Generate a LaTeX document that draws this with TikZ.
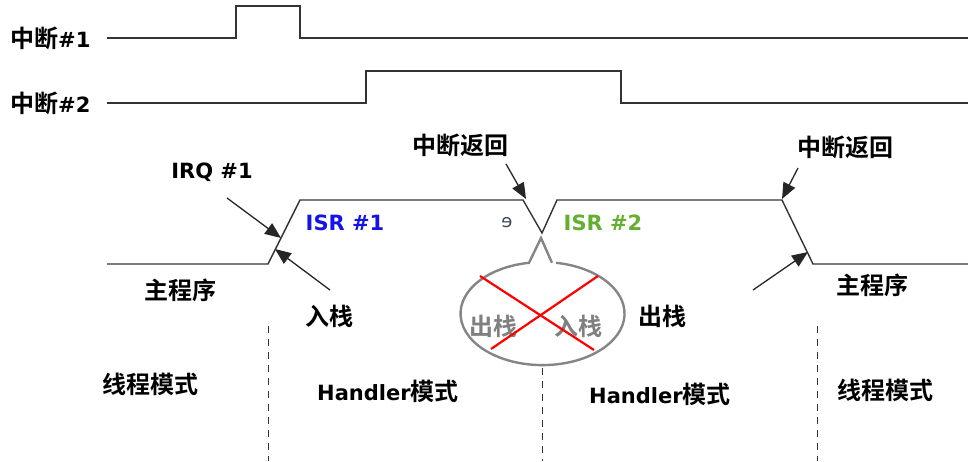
\documentclass[tikz,border=0pt]{standalone}
\usepackage{fontspec}
\setmainfont{DejaVu Sans}
\newfontfamily\cjk{Noto Sans CJK SC Bold}
\newfontfamily\lat{DejaVu Sans Bold}
\usetikzlibrary{arrows.meta}
\newcommand{\zh}[1]{{\cjk\fontsize{24}{25}\selectfont #1}}
\newcommand{\la}[1]{{\lat\fontsize{21}{22}\selectfont #1}}
\begin{document}
\begin{tikzpicture}[x=1pt,y=-1pt,
  wave/.style={draw=black!80,line width=1.4pt,line join=miter},
  lbl/.style={inner sep=0pt,text=black},
  ptr/.style={draw=black!85,line width=1.3pt,-{Triangle[length=16pt,width=13pt]}},
  modesep/.style={draw=black!80,line width=1pt,dash pattern=on 7pt off 6pt}]
\useasboundingbox (0,0) rectangle (968,461);
% interrupt waveforms
\node[lbl,anchor=west] (i1) at (10,38) {\zh{中断}\la{\#1}};
\node[lbl,anchor=west] (i2) at (10,103) {\zh{中断}\la{\#2}};
\coordinate (w1s) at (107,38);
\coordinate (w2s) at (107,103);
\draw[wave] (w1s) -- (236,38) -- (236,6) -- (300,6) -- (300,38) -- (968,38);
\draw[wave] (w2s) -- (366,103) -- (366,71) -- (621,71) -- (621,103) -- (968,103);
% execution line
\coordinate (m0) at (107,264);
\coordinate (m1) at (268,264);
\coordinate (m2) at (300,200);
\coordinate (m3) at (523,200);
\coordinate (v)  at (542,233);
\coordinate (m4) at (557,200);
\coordinate (m5) at (782,200);
\coordinate (m6) at (813,264);
\coordinate (m7) at (968,264);
\draw[wave] (m0) -- (m1) -- (m2) -- (m3) -- (v) -- (m4) -- (m5) -- (m6) -- (m7);
% labels
\node[lbl] (irq) at (212,172) {\la{IRQ \#1}};
\node[lbl,text={rgb,255:red,20;green,20;blue,230}] (isr1) at (345,223) {\la{ISR \#1}};
\node[lbl,text={rgb,255:red,100;green,175;blue,50}] (isr2) at (603,223) {\la{ISR \#2}};
\node[font=\fontsize{18}{19}\selectfont,text={rgb,255:red,60;green,70;blue,90},inner sep=0pt] (stray) at (507,223) {ɘ};
\node[lbl] (main1) at (180,290) {\zh{主程序}};
\node[lbl] (main2) at (872,285) {\zh{主程序}};
\node[lbl] (push) at (329,316) {\zh{入栈}};
\node[lbl] (pop) at (662,316) {\zh{出栈}};
\node[lbl] (ret1) at (460,145) {\zh{中断返回}};
\node[lbl] (ret2) at (845,147) {\zh{中断返回}};
% arrows
\coordinate (a1s) at (227,198); \coordinate (a1e) at (281,238);
\coordinate (a2s) at (330,290); \coordinate (a2e) at (275,249);
\coordinate (a3s) at (506,164); \coordinate (a3e) at (526,199);
\coordinate (a4s) at (798,168); \coordinate (a4e) at (782,199);
\coordinate (a5s) at (753,290); \coordinate (a5e) at (808,252);
\draw[ptr] (a1s) -- (a1e);
\draw[ptr] (a2s) -- (a2e);
\draw[ptr] (a3s) -- (a3e);
\draw[ptr] (a4s) -- (a4e);
\draw[ptr] (a5s) -- (a5e);
% callout
\draw[draw=black!48,line width=2.4pt,line join=miter]
  (552,262.8) -- (541,238) -- (529,262.8)
  arc[start angle=260.5,end angle=-80.5,x radius=82,y radius=51.5];
\node[lbl,text=black!50] (cpop) at (493,326) {\zh{出栈}};
\node[lbl,text=black!50] (cpush) at (578,326) {\zh{入栈}};
\coordinate (x1) at (480,276); \coordinate (x2) at (594,350);
\coordinate (x3) at (598,276); \coordinate (x4) at (491,349);
\draw[red,line width=2.2pt] (x1) -- (x2);
\draw[red,line width=2.2pt] (x3) -- (x4);
% mode separators
\coordinate (d1t) at (268,326); \coordinate (d1b) at (268,461);
\coordinate (d2t) at (542,368); \coordinate (d2b) at (542,461);
\coordinate (d3t) at (817,326); \coordinate (d3b) at (817,461);
\draw[modesep] (d1t) -- (d1b);
\draw[modesep] (d2t) -- (d2b);
\draw[modesep] (d3t) -- (d3b);
\node[lbl] (t1) at (150,384) {\zh{线程模式}};
\node[lbl] (h1) at (388,391) {\la{Handler}\zh{模式}};
\node[lbl] (h2) at (660,394) {\la{Handler}\zh{模式}};
\node[lbl] (t2) at (885,390) {\zh{线程模式}};
\end{tikzpicture}
\end{document}
